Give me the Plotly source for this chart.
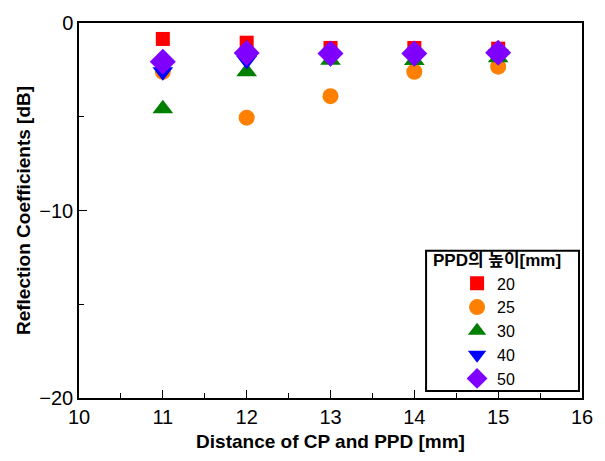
import plotly.graph_objects as go

distance = [11, 12, 13, 14, 15]
series_names = ["20", "25", "30", "40", "50"]
h20 = [-0.85, -1.05, -1.33, -1.33, -1.37]
h25 = [-2.6, -5.05, -3.9, -2.6, -2.33]
h30 = [-4.57, -2.6, -1.98, -2.0, -1.85]
h40 = [-2.6, -2.0, -1.85, -1.85, -1.65]
h50 = [-2.07, -1.6, -1.63, -1.63, -1.58]

values = [h20, h25, h30, h40, h50]
colors = ["#ff0000", "#ff7f00", "#007f00", "#0000ff", "#7f00ff"]
symbols = ["square", "circle", "triangle-up", "triangle-down", "diamond"]
sizes = [14, 16, 18, 18, 20]

fig = go.Figure()
for name, vals, c, s, sz in zip(series_names, values, colors, symbols, sizes):
    fig.add_trace(go.Scatter(
        x=distance, y=vals, mode="markers", name=name,
        marker=dict(color=c, symbol=s, size=sz, line=dict(width=0)),
    ))

axis_font = dict(family="Liberation Sans, Arial, sans-serif", size=20, color="black")
title_font = dict(family="Liberation Sans, Arial, sans-serif", size=19, color="black")

# legend frame drawn as a box in paper coordinates
fig.add_shape(type="rect", xref="paper", yref="paper",
              x0=0.69, x1=0.994, y0=0.019, y1=0.393,
              line=dict(color="black", width=2), fillcolor="white", layer="above")

fig.update_layout(
    width=605, height=461,
    margin=dict(l=79, r=16, t=21, b=63),
    plot_bgcolor="white", paper_bgcolor="white",
    showlegend=True,
    legend=dict(
        x=0.69, y=0.41, xanchor="left", yanchor="top",
        borderwidth=0, bgcolor="rgba(0,0,0,0)",
        title=dict(text="&nbsp;<b>PPD의 높이[mm]</b>&nbsp;", side="top center",
                   font=dict(family="Liberation Sans, Noto Sans CJK KR", size=17, color="black")),
        font=dict(family="Liberation Sans, Arial, sans-serif", size=16, color="black"),
        itemsizing="trace", tracegroupgap=0, indentation=31,
    ),
)
fig.update_xaxes(
    range=[10, 16], dtick=1, tick0=10,
    showline=True, linecolor="black", linewidth=1.5, mirror=True,
    ticks="inside", ticklen=8, tickwidth=1, tickcolor="black",
    minor=dict(ticks="inside", ticklen=5, dtick=0.5, tickcolor="black"),
    showgrid=False, zeroline=False,
    tickfont=axis_font,
    title=dict(text="<b>Distance of CP and PPD [mm]</b>", font=title_font, standoff=8),
)
fig.update_yaxes(
    range=[-20, 0], dtick=10, tick0=0,
    showline=True, linecolor="black", linewidth=1.5, mirror=True,
    ticks="inside", ticklen=8, tickwidth=1, tickcolor="black",
    minor=dict(ticks="inside", ticklen=5, dtick=5, tickcolor="black"),
    showgrid=False, zeroline=False,
    tickfont=axis_font,
    title=dict(text="<b>Reflection Coefficients [dB]</b>", font=title_font, standoff=4),
)

fig.write_html("out.html")
